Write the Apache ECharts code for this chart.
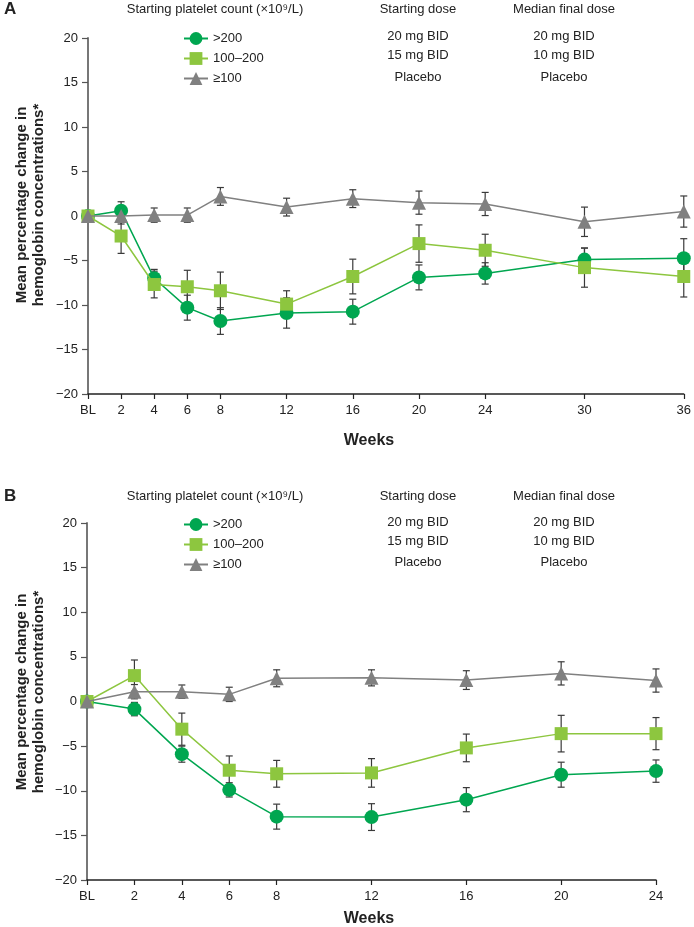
<!DOCTYPE html>
<html><head><meta charset="utf-8">
<script src="https://cdn.jsdelivr.net/npm/echarts@6/dist/echarts.min.js"></script>
<style>html,body{margin:0;padding:0;background:#fff}#c{width:694px;height:927px}</style>
</head><body><div id="c"></div>
<script>
// ---------- data ----------
const seriesNames = ['>200', '100–200', '≥100'];
const weeksA = [0, 2, 4, 6, 8, 12, 16, 20, 24, 30, 36];
const tickValuesA = [0, 2, 4, 6, 8, 12, 16, 20, 24, 30, 36];
const a_gt200 = [0, 0.6, -7.0, -10.3, -11.8, -10.9, -10.75, -6.9, -6.45, -4.9, -4.75];
const a_gt200_err = [0, 1.0, 1.0, 1.4, 1.5, 1.7, 1.4, 1.4, 1.2, 1.3, 2.2];
const a_100200 = [0, -2.25, -7.7, -7.95, -8.4, -9.9, -6.8, -3.1, -3.85, -5.8, -6.8];
const a_100200_err = [0, 1.95, 1.5, 1.85, 2.1, 1.5, 1.95, 2.1, 1.8, 2.2, 2.3];
const a_ge100 = [0, 0, 0.1, 0.1, 2.2, 1.0, 1.95, 1.5, 1.35, -0.65, 0.5];
const a_ge100_err = [0, 0.9, 0.8, 0.8, 1.0, 1.0, 1.0, 1.3, 1.3, 1.65, 1.75];

const weeksB = [0, 2, 4, 6, 8, 12, 16, 20, 24];
const tickValuesB = [0, 2, 4, 6, 8, 12, 16, 20, 24];
const b_gt200 = [0, -0.85, -5.9, -9.9, -12.9, -12.95, -11.0, -8.2, -7.8];
const b_gt200_err = [0, 0.75, 0.9, 0.8, 1.4, 1.5, 1.35, 1.4, 1.25];
const b_100200 = [0, 2.9, -3.1, -7.7, -8.1, -8.0, -5.2, -3.6, -3.6];
const b_100200_err = [0, 1.75, 1.8, 1.6, 1.5, 1.6, 1.55, 2.05, 1.8];
const b_ge100 = [0, 1.1, 1.1, 0.8, 2.6, 2.65, 2.4, 3.15, 2.35];
const b_ge100_err = [0, 0.8, 0.75, 0.8, 0.95, 0.9, 1.05, 1.3, 1.3];

const headerCols = ['Starting platelet count (×10⁹/L)', 'Starting dose', 'Median final dose'];
const startingDose = ['20 mg BID', '15 mg BID', 'Placebo'];
const medianFinalDose = ['20 mg BID', '10 mg BID', 'Placebo'];
const yTitle = 'Mean percentage change in\nhemoglobin concentrations*';
const xTitle = 'Weeks';

// ---------- style ----------
const FF = '"Liberation Sans", Arial, Helvetica, sans-serif';
const C_GREEN = '#00a650', C_LGREEN = '#8dc63f', C_GRAY = '#808080';

function errSeries(xi, weeks, vals, errs) {
  return {
    type: 'custom', xAxisIndex: xi, yAxisIndex: xi, z: 1, silent: true,
    data: weeks.map((w, i) => [w, vals[i], errs[i]]),
    renderItem: (params, api) => {
      const x = api.value(0), v = api.value(1), e = api.value(2);
      if (!e) return null;
      const t = api.coord([x, v + e]), b = api.coord([x, v - e]);
      const cw = 3.5, st = { stroke: '#3a3a3a', lineWidth: 1.2 };
      return { type: 'group', children: [
        { type: 'line', shape: { x1: t[0], y1: t[1], x2: b[0], y2: b[1] }, style: st },
        { type: 'line', shape: { x1: t[0] - cw, y1: t[1], x2: t[0] + cw, y2: t[1] }, style: st },
        { type: 'line', shape: { x1: b[0] - cw, y1: b[1], x2: b[0] + cw, y2: b[1] }, style: st }
      ]};
    }
  };
}
function lineSeries(xi, name, weeks, vals, color, symbol, size, z) {
  return {
    type: 'line', name: name, xAxisIndex: xi, yAxisIndex: xi, z: z,
    data: weeks.map((w, i) => [w, vals[i]]),
    symbol: symbol, symbolSize: size, showAllSymbol: true,
    lineStyle: { color: color, width: 1.5 },
    itemStyle: { color: color, opacity: 1 },
    emphasis: { disabled: true }
  };
}
function xAxis(gi, max, ticks) {
  return {
    type: 'value', gridIndex: gi, min: 0, max: max,
    axisLine: { show: true, onZero: false, lineStyle: { color: '#222', width: 1.5 } },
    axisTick: { show: true, length: 5, customValues: ticks, lineStyle: { color: '#222', width: 1.2 } },
    axisLabel: { customValues: ticks, margin: 10, fontSize: 13, color: '#222', fontFamily: FF,
      formatter: v => v === 0 ? 'BL' : String(v) },
    splitLine: { show: false }
  };
}
function yAxis(gi) {
  return {
    type: 'value', gridIndex: gi, min: -20, max: 20, interval: 5,
    axisLine: { show: true, onZero: false, lineStyle: { color: '#777', width: 2 } },
    axisTick: { show: true, length: 6, lineStyle: { color: '#555', width: 1.2 } },
    axisLabel: { margin: 10, fontSize: 13, color: '#222', fontFamily: FF,
      formatter: v => v < 0 ? '\u2212' + Math.abs(v) : String(v) },
    splitLine: { show: false }
  };
}
function txt(x, y, s, opts) {
  return Object.assign({ type: 'text', x: x, y: y, silent: true,
    style: Object.assign({ text: s, fill: '#222', font: '13px ' + FF, align: 'center', verticalAlign: 'middle' }, (opts || {}).style || {}) },
    opts && opts.rotation !== undefined ? { rotation: opts.rotation } : {});
}
function panelGraphics(dy, letter, rowYs, titleY) {
  const g = [];
  g.push(txt(4, dy + 9, letter, { style: { font: 'bold 17px ' + FF, align: 'left' } }));
  g.push(txt(215, dy + 9, headerCols[0]));
  g.push(txt(418, dy + 9, headerCols[1]));
  g.push(txt(564, dy + 9, headerCols[2]));
  for (let i = 0; i < 3; i++) {
    g.push(txt(418, rowYs[i], startingDose[i]));
    g.push(txt(564, rowYs[i], medianFinalDose[i]));
  }
  g.push(txt(30, titleY, yTitle, { rotation: Math.PI / 2, style: { font: 'bold 15px ' + FF, lineHeight: 17 } }));
  return g;
}

const chart = echarts.init(document.getElementById('c'), null, { renderer: 'canvas' });
const legendBase = {
  data: seriesNames, orient: 'vertical', left: 178, itemWidth: 24, itemHeight: 16, itemGap: 7,
  selectedMode: false, textStyle: { fontSize: 13, color: '#222', fontFamily: FF }
};
chart.setOption({
  animation: false,
  backgroundColor: '#fff',
  grid: [
    { left: 88, top: 38, width: 598, height: 356 },
    { left: 87, top: 523, width: 569, height: 357 }
  ],
  xAxis: [xAxis(0, 36, tickValuesA), xAxis(1, 24, tickValuesB)],
  yAxis: [yAxis(0), yAxis(1)],
  legend: [
    Object.assign({}, legendBase, { top: 27 }),
    Object.assign({}, legendBase, { top: 513 })
  ],
  series: [
    errSeries(0, weeksA, a_gt200, a_gt200_err),
    errSeries(0, weeksA, a_100200, a_100200_err),
    errSeries(0, weeksA, a_ge100, a_ge100_err),
    lineSeries(0, seriesNames[0], weeksA, a_gt200, C_GREEN, 'circle', 14, 3),
    lineSeries(0, seriesNames[1], weeksA, a_100200, C_LGREEN, 'rect', 13, 4),
    lineSeries(0, seriesNames[2], weeksA, a_ge100, C_GRAY, 'triangle', 14, 5),
    errSeries(1, weeksB, b_gt200, b_gt200_err),
    errSeries(1, weeksB, b_100200, b_100200_err),
    errSeries(1, weeksB, b_ge100, b_ge100_err),
    lineSeries(1, seriesNames[0], weeksB, b_gt200, C_GREEN, 'circle', 14, 3),
    lineSeries(1, seriesNames[1], weeksB, b_100200, C_LGREEN, 'rect', 13, 4),
    lineSeries(1, seriesNames[2], weeksB, b_ge100, C_GRAY, 'triangle', 14, 5)
  ],
  graphic: [].concat(
    panelGraphics(0, 'A', [36, 55, 77], 205),
    panelGraphics(487, 'B', [522, 541, 562], 692),
    [txt(369, 441, xTitle, { style: { font: 'bold 16px ' + FF } }),
     txt(369, 919, xTitle, { style: { font: 'bold 16px ' + FF } })]
  )
});
</script>
</body></html>
